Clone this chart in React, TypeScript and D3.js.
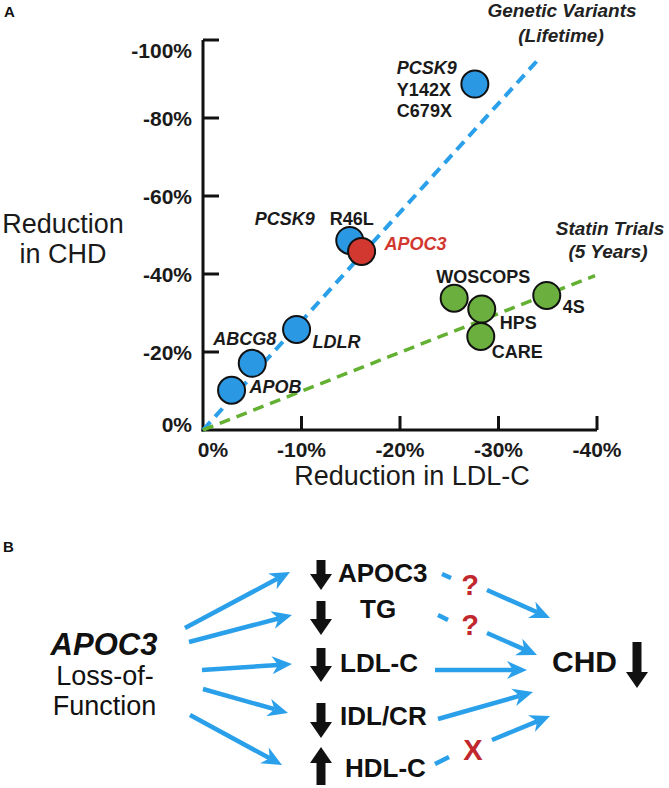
import React from "react";
import * as d3 from "d3";

// ---------- Panel A data ----------
const geneticNames = ["PCSK9 Y142X/C679X", "PCSK9 R46L", "LDLR", "ABCG8", "APOB", "APOC3"];
const geneticLDL = [-27.6, -14.9, -9.5, -5.0, -2.9, -16.1];
const geneticCHD = [-88.7, -48.6, -25.8, -17.1, -10.2, -45.8];
const geneticColors = ["blue", "blue", "blue", "blue", "blue", "red"];

const statinNames = ["WOSCOPS", "HPS", "CARE", "4S"];
const statinLDL = [-25.5, -28.3, -28.2, -34.9];
const statinCHD = [-33.8, -31.0, -24.0, -34.5];

const geneticFitLDL = [0, -33.9];
const geneticFitCHD = [0, -94.6];
const statinFitLDL = [0, -39.8];
const statinFitCHD = [0, -39.6];

const xTicks = [0, -10, -20, -30, -40];
const xTickLabels = ["0%", "-10%", "-20%", "-30%", "-40%"];
const yTicks = [0, -20, -40, -60, -80, -100];
const yTickLabels = ["0%", "-20%", "-40%", "-60%", "-80%", "-100%"];

// ---------- Panel B text ----------
const mediatorLabels = ["APOC3", "TG", "LDL-C", "IDL/CR", "HDL-C"];
const mediatorDirections = ["down", "down", "down", "down", "up"];

const FONT = "'Liberation Sans', Arial, Helvetica, sans-serif";
const BLUE = "#2b98e4";
const BLUE_LINE = "#2a9fea";
const RED = "#d2382f";
const RED_Q = "#c0282d";
const GREEN = "#6bb03e";
const GREEN_LINE = "#63b032";

function stealth(x1: number, y1: number, x2: number, y2: number, len = 20, half = 9, notch = 6) {
  const ang = Math.atan2(y2 - y1, x2 - x1);
  const ux = Math.cos(ang), uy = Math.sin(ang);
  const px = -uy, py = ux;
  const bx = x2 - ux * len, by = y2 - uy * len;
  const nx = x2 - ux * (len - notch), ny = y2 - uy * (len - notch);
  const head = `M${x2},${y2} L${bx + px * half},${by + py * half} L${nx},${ny} L${bx - px * half},${by - py * half} Z`;
  return { head, sx: nx, sy: ny };
}

function BlueArrow({ x1, y1, x2, y2 }: { x1: number; y1: number; x2: number; y2: number }) {
  const s = stealth(x1, y1, x2, y2);
  return (
    <g>
      <line x1={x1} y1={y1} x2={s.sx} y2={s.sy} stroke={BLUE_LINE} strokeWidth={4.5} />
      <path d={s.head} fill={BLUE_LINE} />
    </g>
  );
}

function BlackArrow({ x, yTail, yTip }: { x: number; yTail: number; yTip: number }) {
  const dir = yTip > yTail ? 1 : -1;
  const headLen = 16;
  const hw = 11;
  const sw = 4.5;
  const yb = yTip - dir * headLen;
  const d = `M${x - sw},${yTail} L${x + sw},${yTail} L${x + sw},${yb} L${x + hw},${yb} L${x},${yTip} L${x - hw},${yb} L${x - sw},${yb} Z`;
  return <path d={d} fill="#111" />;
}

export default function App() {
  const x = d3.scaleLinear().domain([0, -40]).range([203, 597]);
  const y = d3.scaleLinear().domain([0, -100]).range([430, 40]);
  const line = d3
    .line<[number, number]>()
    .x((d) => x(d[0]))
    .y((d) => y(d[1]));

  const gFit: [number, number][] = geneticFitLDL.map((v, i) => [v, geneticFitCHD[i]]);
  const sFit: [number, number][] = statinFitLDL.map((v, i) => [v, statinFitCHD[i]]);

  const r = 13.5;
  const gp = geneticNames.map((n, i) => ({ n, cx: x(geneticLDL[i]), cy: y(geneticCHD[i]), c: geneticColors[i] }));
  const sp = statinNames.map((n, i) => ({ n, cx: x(statinLDL[i]), cy: y(statinCHD[i]) }));

  const lab = { fontFamily: FONT, fontWeight: 700, fontSize: 18, fill: "#1a1a1a" } as const;
  const labI = { ...lab, fontStyle: "italic" } as const;

  const yLabelShift: Record<string, number> = { "-100%": 10, "0%": -6 };
  const xLabelShift: Record<string, number> = { "0%": 10 };

  // mediator layout (panel B)
  const medBaselines = [582, 618, 672, 725, 777];
  const medX = [338, 360, 340, 340, 345];
  const blackArrows = [
    [560, 590],
    [601, 635],
    [648, 682],
    [703, 738],
    [785, 747],
  ];

  return (
    <svg width={669} height={788} style={{ position: "absolute", left: 0, top: 0, background: "#fff" }}>
      <rect x={0} y={0} width={669} height={788} fill="#fff" />
      {/* ===== Panel A ===== */}
      <text x={4} y={17} fontFamily={FONT} fontWeight={700} fontSize={15} fill="#111">A</text>

      {/* axes */}
      <line x1={x(0)} y1={y(-100)} x2={x(0)} y2={y(0) + 1.5} stroke="#111" strokeWidth={3} />
      <line x1={x(0) - 1.5} y1={y(0)} x2={x(-40)} y2={y(0)} stroke="#111" strokeWidth={3} />
      {yTicks.map((t, i) =>
        t === 0 ? null : (
          <line key={"yt" + i} x1={x(0)} x2={x(0) + 16} y1={y(t)} y2={y(t)} stroke="#111" strokeWidth={3} />
        )
      )}
      {xTicks.map((t, i) =>
        t === 0 ? null : (
          <line key={"xt" + i} x1={x(t)} x2={x(t)} y1={y(0)} y2={y(0) - 14} stroke="#111" strokeWidth={3} />
        )
      )}
      {yTicks.map((t, i) => (
        <text
          key={"yl" + i}
          x={192}
          y={y(t) + 7.5 + (yLabelShift[yTickLabels[i]] || 0)}
          textAnchor="end"
          fontFamily={FONT}
          fontWeight={700}
          fontSize={21}
          fill="#1a1a1a"
        >
          {yTickLabels[i]}
        </text>
      ))}
      {xTicks.map((t, i) => (
        <text
          key={"xl" + i}
          x={x(t) + (xLabelShift[xTickLabels[i]] || 0)}
          y={457}
          textAnchor="middle"
          fontFamily={FONT}
          fontWeight={700}
          fontSize={21}
          fill="#1a1a1a"
        >
          {xTickLabels[i]}
        </text>
      ))}
      <text x={412} y={485} textAnchor="middle" fontFamily={FONT} fontSize={27} fill="#1a1a1a">
        Reduction in LDL-C
      </text>
      <text x={63} y={233} textAnchor="middle" fontFamily={FONT} fontSize={27} fill="#1a1a1a">Reduction</text>
      <text x={63} y={263} textAnchor="middle" fontFamily={FONT} fontSize={27} fill="#1a1a1a">in CHD</text>

      {/* fit lines */}
      <path d={line(gFit) || ""} stroke={BLUE_LINE} strokeWidth={4} strokeDasharray="11 7" fill="none" />
      <path d={line(sFit) || ""} stroke={GREEN_LINE} strokeWidth={3.5} strokeDasharray="11 7" fill="none" />

      {/* points */}
      {gp.map((p, i) => (
        <circle key={"g" + i} cx={p.cx} cy={p.cy} r={r} fill={p.c === "red" ? RED : BLUE} stroke="#111" strokeWidth={2} />
      ))}
      {sp.map((p, i) => (
        <circle key={"s" + i} cx={p.cx} cy={p.cy} r={r} fill={GREEN} stroke="#111" strokeWidth={2} />
      ))}

      {/* annotations */}
      <text x={562} y={17} textAnchor="middle" {...labI} fontSize={19} fill="#222">Genetic Variants</text>
      <text x={561} y={42} textAnchor="middle" {...labI} fontSize={19} fill="#222">(Lifetime)</text>
      <text x={610} y={235} textAnchor="middle" {...labI} fontSize={19} fill="#222">Statin Trials</text>
      <text x={608} y={258} textAnchor="middle" {...labI} fontSize={19} fill="#222">(5 Years)</text>

      <text x={gp[0].cx - 78} y={gp[0].cy - 10} {...labI}>PCSK9</text>
      <text x={gp[0].cx - 78} y={gp[0].cy + 12} {...lab}>Y142X</text>
      <text x={gp[0].cx - 78} y={gp[0].cy + 33} {...lab}>C679X</text>

      <text x={gp[1].cx - 95} y={gp[1].cy - 15} {...labI}>PCSK9</text>
      <text x={gp[1].cx - 20} y={gp[1].cy - 15} {...lab}>R46L</text>
      <text x={gp[5].cx + 23} y={gp[5].cy - 1} {...labI} fill={RED}>APOC3</text>
      <text x={gp[2].cx + 16} y={gp[2].cy + 19} {...labI}>LDLR</text>
      <text x={gp[3].cx - 39} y={gp[3].cy - 18} {...labI}>ABCG8</text>
      <text x={gp[4].cx + 18} y={gp[4].cy + 3} {...labI}>APOB</text>

      <text x={sp[0].cx + 29} y={sp[0].cy - 15} textAnchor="middle" {...lab}>WOSCOPS</text>
      <text x={sp[1].cx + 18} y={sp[1].cy + 20} {...lab}>HPS</text>
      <text x={sp[2].cx + 11} y={sp[2].cy + 22} {...lab}>CARE</text>
      <text x={sp[3].cx + 16} y={sp[3].cy + 18} {...lab}>4S</text>

      {/* ===== Panel B ===== */}
      <text x={3} y={552} fontFamily={FONT} fontWeight={700} fontSize={15} fill="#111">B</text>
      <text x={104} y={655} textAnchor="middle" fontFamily={FONT} fontWeight={700} fontStyle="italic" fontSize={31} fill="#111">APOC3</text>
      <text x={105} y={685} textAnchor="middle" fontFamily={FONT} fontSize={27} fill="#111">Loss-of-</text>
      <text x={104.5} y={715} textAnchor="middle" fontFamily={FONT} fontSize={27} fill="#111">Function</text>

      <BlueArrow x1={185} y1={628} x2={290} y2={572} />
      <BlueArrow x1={189} y1={642} x2={292} y2={615} />
      <BlueArrow x1={202} y1={670} x2={292} y2={664} />
      <BlueArrow x1={203} y1={689} x2={288} y2={713} />
      <BlueArrow x1={190} y1={715} x2={282} y2={765} />

      {mediatorLabels.map((m, i) => (
        <g key={"m" + i}>
          <BlackArrow
            x={321}
            yTail={blackArrows[i][0]}
            yTip={blackArrows[i][1]}
          />
          <text x={medX[i]} y={medBaselines[i]} fontFamily={FONT} fontWeight={700} fontSize={26} fill="#111">
            {m}
          </text>
        </g>
      ))}
      {mediatorDirections.length === 0 ? null : null}

      {/* right-side arrows */}
      <line x1={442} y1={574} x2={451} y2={578} stroke={BLUE_LINE} strokeWidth={4.5} />
      <text x={470} y={595} textAnchor="middle" fontFamily={FONT} fontWeight={700} fontSize={29} fill={RED_Q}>?</text>
      <BlueArrow x1={487} y1={590} x2={550} y2={618} />

      <line x1={438} y1={615} x2={448} y2={620} stroke={BLUE_LINE} strokeWidth={4.5} />
      <text x={470} y={635} textAnchor="middle" fontFamily={FONT} fontWeight={700} fontSize={29} fill={RED_Q}>?</text>
      <BlueArrow x1={487} y1={633} x2={537} y2={655} />

      <BlueArrow x1={435} y1={670} x2={527} y2={670} />
      <BlueArrow x1={438} y1={719} x2={533} y2={692} />

      <line x1={435} y1={764} x2={449} y2={757} stroke={BLUE_LINE} strokeWidth={4.5} />
      <text x={473} y={760} textAnchor="middle" fontFamily={FONT} fontWeight={700} fontSize={29} fill={RED_Q}>X</text>
      <BlueArrow x1={492} y1={740} x2={550} y2={716} />

      <text x={552} y={672} fontFamily={FONT} fontWeight={700} fontSize={30} fill="#111">CHD</text>
      <BlackArrow x={637} yTail={642} yTip={688} />
    </svg>
  );
}
